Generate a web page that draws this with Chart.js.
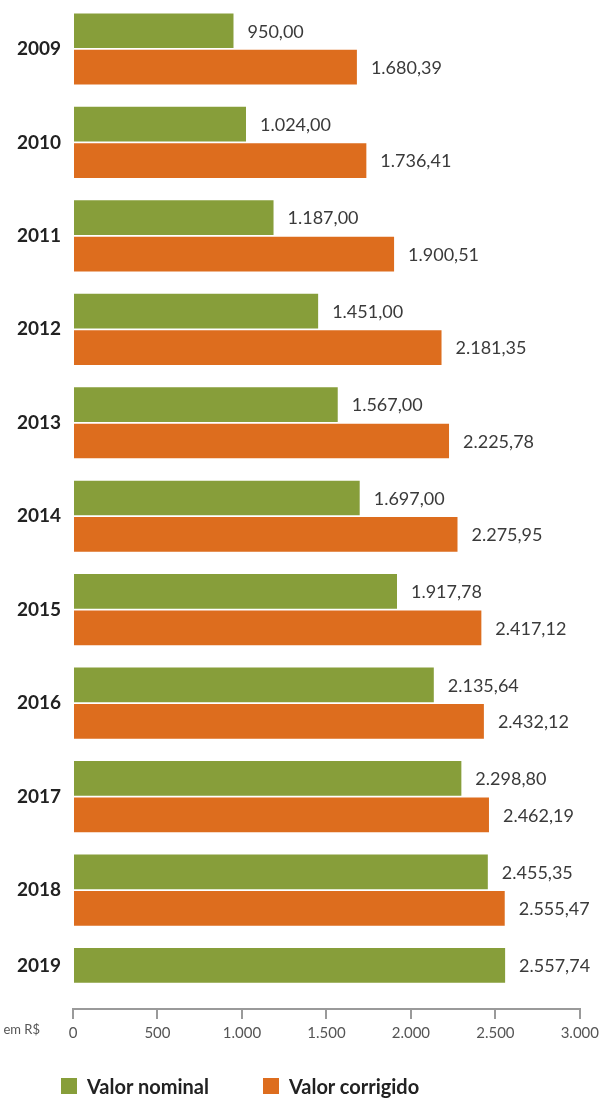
<!DOCTYPE html>
<html>
<head>
<meta charset="utf-8">
<script src="https://cdn.jsdelivr.net/npm/chart.js"></script>
<style>
  html, body { margin: 0; padding: 0; background: #fff; overflow: hidden; }
  #wrap { position: relative; width: 604px; height: 1098px; }
  #legend { position: absolute; left: 61px; top: 1075px; display: flex; font: bold 20px Lato, sans-serif; color: #222; line-height: 22px; }
  #legend span.item { display: flex; align-items: center; margin-right: 54px; }
  #legend span.box { width: 16px; height: 16px; margin-right: 10px; display: inline-block; }
</style>
</head>
<body>
<div id="wrap">
  <canvas id="chart"></canvas>
  <div id="legend"></div>
</div>
<script>
// data
const years = [2009, 2010, 2011, 2012, 2013, 2014, 2015, 2016, 2017, 2018, 2019];
const nominal = [950.00, 1024.00, 1187.00, 1451.00, 1567.00, 1697.00, 1917.78, 2135.64, 2298.80, 2455.35, 2557.74];
const corrigido = [1680.39, 1736.41, 1900.51, 2181.35, 2225.78, 2275.95, 2417.12, 2432.12, 2462.19, 2555.47, null];
const seriesNames = ['Valor nominal', 'Valor corrigido'];
const seriesColors = ['#879e3a', '#dd6d1e'];
const xTicks = [0, 500, 1000, 1500, 2000, 2500, 3000];
const unitLabel = 'em R$';

const yearFont = { family: 'Lato', size: 19, weight: 'bold' };

function fmtThousands(v) {
  return String(v).replace(/\B(?=(\d{3})+(?!\d))/g, '.');
}
function fmtValue(v) {
  const parts = v.toFixed(2).split('.');
  return fmtThousands(parts[0]) + ',' + parts[1];
}
// years with a single bar get their label next to that bar instead of the tick
const singleBar = i => corrigido[i] == null;

// value labels to the right of each bar, plus labels of single-bar years
const valueLabels = {
  id: 'valueLabels',
  afterDatasetsDraw(chart) {
    const ctx = chart.ctx;
    ctx.save();
    ctx.font = '18px Lato';
    ctx.fillStyle = '#3a3a3a';
    ctx.textAlign = 'left';
    ctx.textBaseline = 'middle';
    chart.data.datasets.forEach((ds, i) => {
      chart.getDatasetMeta(i).data.forEach((bar, j) => {
        const v = ds.data[j];
        if (v == null) return;
        ctx.fillText(fmtValue(v), bar.x + 14, bar.y + 1);
      });
    });
    const bars = chart.getDatasetMeta(0).data;
    ctx.font = 'bold 19px Lato';
    ctx.fillStyle = '#222';
    ctx.textAlign = 'right';
    years.forEach((yr, j) => {
      if (!singleBar(j)) return;
      ctx.fillText(String(yr), chart.chartArea.left - 12, bars[j].y + 1);
    });
    ctx.restore();
  }
};

// "em R$" left of the x axis labels
const unitText = {
  id: 'unitText',
  afterDraw(chart) {
    const ctx = chart.ctx;
    const x = chart.scales.x;
    ctx.save();
    ctx.font = '13px Lato';
    ctx.fillStyle = '#555';
    ctx.textAlign = 'right';
    ctx.textBaseline = 'middle';
    ctx.fillText(unitLabel, x.left - 33, x.top + 21);
    ctx.restore();
  }
};

new Chart(document.getElementById('chart'), {
  type: 'bar',
  data: {
    labels: years,
    datasets: [
      { label: seriesNames[0], data: nominal, backgroundColor: seriesColors[0] },
      { label: seriesNames[1], data: corrigido, backgroundColor: seriesColors[1] }
    ]
  },
  options: {
    indexAxis: 'y',
    responsive: true,
    maintainAspectRatio: false,
    animation: false,
    categoryPercentage: 0.78,
    barPercentage: 0.953,
    layout: { padding: { top: 0, right: 23, bottom: 54, left: 0 } },
    plugins: { legend: { display: false }, tooltip: { enabled: false } },
    scales: {
      y: {
        type: 'linear',
        reverse: true,
        offset: false,
        min: 2008.476,
        max: 2019.273,
        grid: { display: false, drawTicks: false, offset: false },
        border: { display: false },
        afterBuildTicks: s => { s.ticks = years.map(v => ({ value: v })); },
        afterFit: s => { s.width = 73; s.paddingTop = 0; s.paddingBottom = 0; },
        ticks: {
          padding: 12,
          color: '#222',
          font: yearFont,
          callback: (v, i) => singleBar(i) ? '' : String(v)
        }
      },
      x: {
        type: 'linear',
        min: 0,
        max: 3000,
        afterBuildTicks: s => { s.ticks = xTicks.map(v => ({ value: v })); },
        afterFit: s => { s.height = 35; },
        grid: { drawOnChartArea: false, drawTicks: true, tickLength: 10, color: '#9a9a9a', lineWidth: 2 },
        border: { display: true, color: '#9a9a9a', width: 2 },
        ticks: {
          padding: 5,
          color: '#555',
          font: { family: 'Lato', size: 15 },
          callback: v => fmtThousands(v)
        }
      }
    }
  },
  plugins: [valueLabels, unitText]
});

// legend
const legend = document.getElementById('legend');
seriesNames.forEach((name, i) => {
  const item = document.createElement('span');
  item.className = 'item';
  item.innerHTML = '<span class="box" style="background:' + seriesColors[i] + '"></span>' + name;
  legend.appendChild(item);
});
</script>
</body>
</html>
